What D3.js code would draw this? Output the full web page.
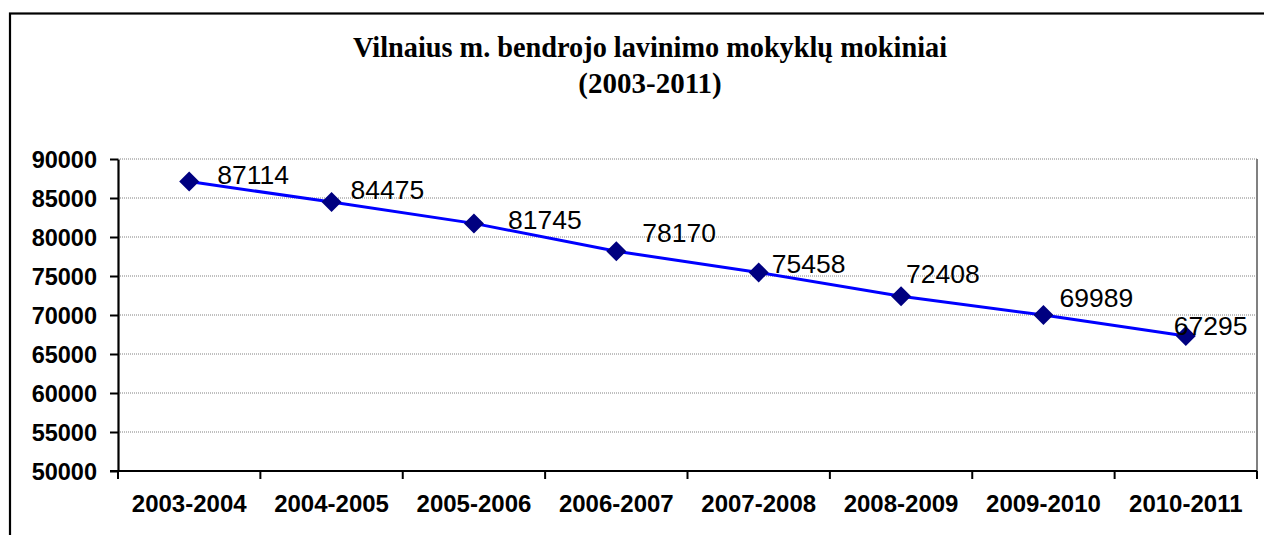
<!DOCTYPE html>
<meta charset="utf-8">
<html>
<head>
<title>Vilnaius mokiniai</title>
<style>
  body { margin: 0; background: #fff; }
  text { font-family: Arial, "Liberation Sans", sans-serif; }
</style>
<script src="https://cdn.jsdelivr.net/npm/d3@7"></script>
</head>
<body>
<script>
// chart data
var years = ["2003-2004", "2004-2005", "2005-2006", "2006-2007", "2007-2008", "2008-2009", "2009-2010", "2010-2011"]
var pupils = [87114, 84475, 81745, 78170, 75458, 72408, 69989, 67295]
var yTicks = [50000, 55000, 60000, 65000, 70000, 75000, 80000, 85000, 90000]
var titleLines = ["Vilnaius m. bendrojo lavinimo mokyklų mokiniai", "(2003-2011)"]
// hand placed label nudges as in the original (dx, dy from the marker)
var labelNudge = [[28, 2], [19, -3], [34, 6], [26, -9], [13, 1], [5, -13], [16, -8], [-12, -1]]

var W = 1264, H = 535
var margin = {top: 159, right: 7, bottom: 64, left: 118}

var svg = d3.select("body").append("svg")
    .attr("width", W)
    .attr("height", H)

// outer chart frame (runs past the right and bottom of the picture)
svg.append("rect")
    .attr("x", 10).attr("y", 13.5)
    .attr("width", 1280).attr("height", 600)
    .attr("fill", "#fff")
    .attr("stroke", "#000")
    .attr("stroke-width", 2.2)

var x = d3.scaleBand()
    .domain(years)
    .range([margin.left, W - margin.right])
var y = d3.scaleLinear()
    .domain([50000, 90000])
    .range([H - margin.bottom, margin.top])

// title
svg.selectAll("text.title")
    .data(titleLines)
    .enter()
    .append("text")
    .attr("class", "title")
    .attr("x", 650)
    .attr("y", (d, i) => 57 + i * 36)
    .attr("text-anchor", "middle")
    .style("font-family", "'Times New Roman', 'Liberation Serif', serif")
    .style("font-weight", "bold")
    .style("font-size", "29px")
    .attr("textLength", (d, i) => i == 0 ? 594 : null)
    .attr("lengthAdjust", "spacingAndGlyphs")
    .text(d => d)

// gridlines
svg.selectAll("line.grid")
    .data(yTicks.slice(1))
    .enter()
    .append("line")
    .attr("class", "grid")
    .attr("x1", margin.left).attr("x2", W - margin.right)
    .attr("y1", d => y(d)).attr("y2", d => y(d))
    .attr("stroke", "#808080")
    .attr("stroke-width", 1)
    .attr("stroke-dasharray", "1,1")

// plot area right border
svg.append("line")
    .attr("x1", W - margin.right).attr("x2", W - margin.right)
    .attr("y1", y(90000)).attr("y2", y(50000))
    .attr("stroke", "#808080")
    .attr("stroke-width", 2)

// y axis
var yAxis = svg.append("g")
    .attr("transform", "translate(" + margin.left + ",0)")
    .call(d3.axisLeft(y).tickValues(yTicks).tickFormat(d3.format("d"))
        .tickSize(8).tickPadding(13).tickSizeOuter(0))
yAxis.select(".domain").attr("stroke-width", 2.2)
yAxis.selectAll(".tick line").attr("stroke-width", 2)
yAxis.selectAll(".tick text")
    .style("font-size", "23.5px")
    .style("font-weight", "bold")
    .attr("fill", "#000")
    .attr("dy", "0.36em")

// x axis, ticks sit on the category borders
var xg = svg.append("g")
    .attr("transform", "translate(0," + y(50000) + ")")
xg.append("line")
    .attr("x1", margin.left - 8).attr("x2", W - margin.right)
    .attr("stroke", "#000")
    .attr("stroke-width", 2.2)
xg.selectAll("line.xt")
    .data(years.concat(["end"]))
    .enter()
    .append("line")
    .attr("class", "xt")
    .attr("x1", (d, i) => i < years.length ? x(d) : W - margin.right)
    .attr("x2", (d, i) => i < years.length ? x(d) : W - margin.right)
    .attr("y1", 0).attr("y2", 8)
    .attr("stroke", "#000")
    .attr("stroke-width", 2)
xg.selectAll("text")
    .data(years)
    .enter()
    .append("text")
    .attr("x", d => x(d) + x.bandwidth() / 2)
    .attr("y", 41)
    .attr("text-anchor", "middle")
    .style("font-size", "24px")
    .style("font-weight", "bold")
    .text(d => d)

// line and markers
var pts = years.map((d, i) => ({year: d, v: pupils[i]}))
var line = d3.line()
    .x(d => x(d.year) + x.bandwidth() / 2)
    .y(d => y(d.v))
svg.append("path")
    .datum(pts)
    .attr("d", line)
    .attr("fill", "none")
    .attr("stroke", "#0000ff")
    .attr("stroke-width", 3)

svg.selectAll("path.marker")
    .data(pts)
    .enter()
    .append("path")
    .attr("class", "marker")
    .attr("d", "M0,-10L10,0L0,10L-10,0Z")
    .attr("transform", d => "translate(" + (x(d.year) + x.bandwidth() / 2) + "," + y(d.v) + ")")
    .attr("fill", "#000080")

svg.selectAll("text.val")
    .data(pts)
    .enter()
    .append("text")
    .attr("class", "val")
    .attr("x", (d, i) => x(d.year) + x.bandwidth() / 2 + labelNudge[i][0])
    .attr("y", (d, i) => y(d.v) + labelNudge[i][1])
    .style("font-size", "26.5px")
    .attr("fill", "#000")
    .text(d => d.v)
</script>
</body>
</html>
